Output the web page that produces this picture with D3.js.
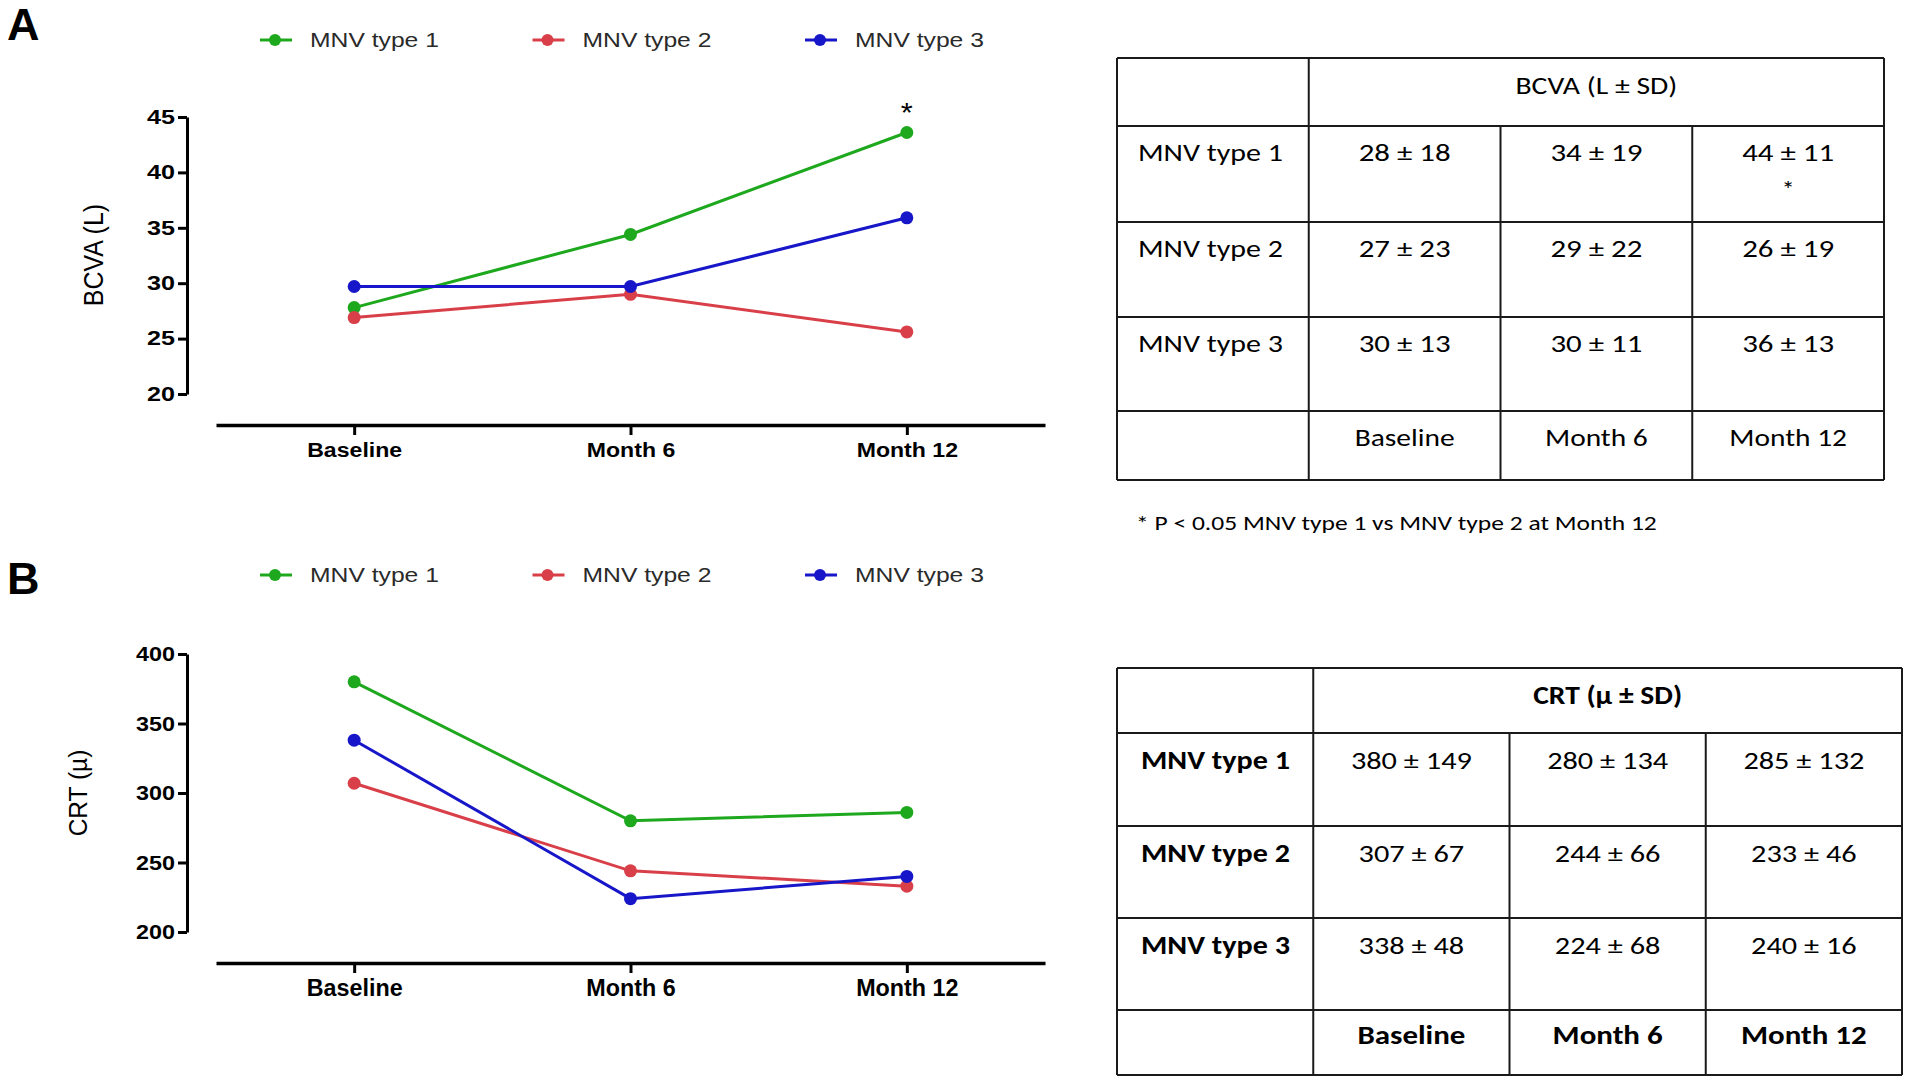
<!DOCTYPE html>
<html>
<head>
<meta charset="utf-8">
<script src="https://cdn.jsdelivr.net/npm/d3@7"></script>
<style>
  body { margin: 0; background: #fff; }
  svg { display: block; }
</style>
</head>
<body>
<div id="chart"></div>
<script>
/* DATA */
const timepoints = ["Baseline", "Month 6", "Month 12"];
const groups = ["MNV type 1", "MNV type 2", "MNV type 3"];

// panel A, BCVA (letters)
const bcvaType1 = [27.8, 34.4, 43.6];
const bcvaType2 = [26.9, 29.0, 25.6];
const bcvaType3 = [29.7, 29.7, 35.9];
const bcvaTicks = [20, 25, 30, 35, 40, 45];

// panel B, CRT (microns)
const crtType1 = [380, 280, 286];
const crtType2 = [307, 244, 233];
const crtType3 = [338, 224, 240];
const crtTicks = [200, 250, 300, 350, 400];

// tables: mean and SD per group (rows) and time point (columns)
const bcvaMean = [[28, 34, 44], [27, 29, 26], [30, 30, 36]];
const bcvaSd = [[18, 19, 11], [23, 22, 19], [13, 11, 13]];
const bcvaMarks = [["", "", "*"], ["", "", ""], ["", "", ""]];
const crtMean = [[380, 280, 285], [307, 244, 233], [338, 224, 240]];
const crtSd = [[149, 134, 132], [67, 66, 46], [48, 68, 16]];

const footnote = "* P < 0.05 MNV type 1 vs MNV type 2 at Month 12";

/* CONSTANTS */
const width = 1907, height = 1085;
const colors = ["#1ea81e", "#d93f48", "#1717c9"];
const sansFont = "'Liberation Sans', Arial, sans-serif";
const tableFont = "Carlito, Lato, 'Open Sans', sans-serif";

const svg = d3.select("#chart").append("svg")
  .attr("width", width)
  .attr("height", height);

// the original picture is stretched sideways, so work out how much
// wider a sample string has to be drawn to match the width seen there
function fitScale(sample, size, bold, family, target) {
  const t = svg.append("text")
    .attr("font-family", family)
    .attr("font-size", size)
    .attr("font-weight", bold ? "bold" : "normal")
    .text(sample);
  const len = t.node().getComputedTextLength();
  t.remove();
  return target / len;
}

function stretchText(g, x, y, str, size, sx, opts = {}) {
  return g.append("text")
    .attr("transform", `translate(${x},${y}) scale(${sx},1)` + (opts.rotate ? ` rotate(${opts.rotate})` : ""))
    .attr("text-anchor", opts.anchor || "start")
    .attr("font-family", opts.family || sansFont)
    .attr("font-size", size)
    .attr("font-weight", opts.bold ? "bold" : "normal")
    .attr("fill", opts.fill || "#000")
    .text(str);
}

const legendSx = fitScale("MNV type 1", 19.5, false, sansFont, 129);

function drawChart(cfg) {
  const g = svg.append("g");

  // panel letter
  stretchText(g, 7, cfg.letterY, cfg.letter, 45, 1, { bold: true });

  // legend
  const legendX = d3.scalePoint().domain(groups).range([275, 820]);
  groups.forEach((name, i) => {
    const lx = legendX(name);
    g.append("line")
      .attr("x1", lx - 15).attr("x2", lx + 17)
      .attr("y1", cfg.legendY).attr("y2", cfg.legendY)
      .attr("stroke", colors[i]).attr("stroke-width", 3);
    g.append("circle")
      .attr("cx", lx).attr("cy", cfg.legendY).attr("r", 6)
      .attr("fill", colors[i]);
    stretchText(g, lx + 35, cfg.legendY + 7, name, 19.5, legendSx, { fill: "#2a2a2a" });
  });

  const x = d3.scalePoint().domain(timepoints).range([216, 1045]).padding(0.5);
  const y = d3.scaleLinear().domain(cfg.yDomain).range(cfg.yRange);

  const yTickSx = fitScale(String(cfg.ticks[0]), cfg.yTickSize, true, sansFont, cfg.yTickWidth);
  const xTickSx = fitScale(timepoints[0], cfg.xTickSize, true, sansFont, cfg.xTickWidth);

  // y axis
  const yAxis = g.append("g")
    .attr("transform", `translate(187,0)`)
    .call(d3.axisLeft(y).tickValues(cfg.ticks).tickSize(9).tickSizeOuter(0).tickPadding(3));
  yAxis.select(".domain").attr("stroke", "#000").attr("stroke-width", 3);
  yAxis.selectAll(".tick line").attr("stroke", "#000").attr("stroke-width", 3);
  yAxis.selectAll(".tick text")
    .attr("font-family", sansFont)
    .attr("font-size", cfg.yTickSize)
    .attr("font-weight", "bold")
    .attr("fill", "#000")
    .attr("x", -12 / yTickSx)
    .attr("transform", `scale(${yTickSx},1)`);

  // x axis
  const xAxis = g.append("g")
    .attr("transform", `translate(0,${cfg.xAxisY})`)
    .call(d3.axisBottom(x).tickSize(10).tickSizeOuter(0).tickPadding(cfg.xPad));
  xAxis.select(".domain").attr("stroke", "#000").attr("stroke-width", 3.5);
  xAxis.selectAll(".tick line").attr("stroke", "#000").attr("stroke-width", 3);
  xAxis.selectAll(".tick text")
    .attr("font-family", sansFont)
    .attr("font-size", cfg.xTickSize)
    .attr("font-weight", "bold")
    .attr("fill", "#000")
    .attr("transform", `scale(${xTickSx},1)`);

  // y axis title
  stretchText(g, cfg.titleX, cfg.titleY, cfg.title, cfg.titleSize, cfg.titleSx,
    { rotate: -90, anchor: "middle" });

  // series
  const line = d3.line().x((d, i) => x(timepoints[i])).y(d => y(d));
  cfg.series.forEach((vals, i) => {
    g.append("path")
      .attr("d", line(vals))
      .attr("fill", "none")
      .attr("stroke", colors[i])
      .attr("stroke-width", 3);
  });
  cfg.series.forEach((vals, i) => {
    g.selectAll(null)
      .data(vals)
      .join("circle")
      .attr("cx", (d, j) => x(timepoints[j]))
      .attr("cy", d => y(d))
      .attr("r", 6.5)
      .attr("fill", colors[i]);
  });

  if (cfg.star) {
    stretchText(g, x(timepoints[cfg.star.col]), y(cfg.series[cfg.star.row][cfg.star.col]) - 11,
      "*", 28, 1.1, { anchor: "middle" });
  }
}

function drawTable(cfg) {
  const g = svg.append("g");
  const col = d3.scaleBand().domain(["label", ...timepoints]).range(cfg.xRange);
  const rows = cfg.rowEdges;
  const left = cfg.xRange[0], right = cfg.xRange[1];
  const size = cfg.fontSize;

  // horizontal rules
  rows.forEach(ry => {
    g.append("line").attr("x1", left).attr("x2", right).attr("y1", ry).attr("y2", ry)
      .attr("stroke", "#1a1a1a").attr("stroke-width", 2);
  });
  // outer verticals + label column divider
  [left, col(timepoints[0]), right].forEach(cx => {
    g.append("line").attr("x1", cx).attr("x2", cx).attr("y1", rows[0]).attr("y2", rows[rows.length - 1])
      .attr("stroke", "#1a1a1a").attr("stroke-width", 2);
  });
  // inner verticals below the merged header
  timepoints.slice(1).forEach(t => {
    g.append("line").attr("x1", col(t)).attr("x2", col(t)).attr("y1", rows[1]).attr("y2", rows[rows.length - 1])
      .attr("stroke", "#1a1a1a").attr("stroke-width", 2);
  });

  const cell = (m, s) => `${m} ± ${s}`;
  const headSx = fitScale(cfg.header, size, cfg.boldHeads, tableFont, cfg.headerWidth);
  const labelSx = fitScale(groups[0], size, cfg.boldHeads, tableFont, cfg.labelWidth);
  const valueSx = fitScale(cell(cfg.mean[0][0], cfg.sd[0][0]), size, false, tableFont, cfg.valueWidth);
  const timeSx = fitScale(timepoints[0], size, cfg.boldHeads, tableFont, cfg.timeWidth);

  const txt = (x, y, s, bold, anchor, sx) =>
    stretchText(g, x, y, s, size, sx, { bold: bold, anchor: anchor, family: tableFont });

  // header
  txt((col(timepoints[0]) + right) / 2, rows[0] + cfg.headerDy, cfg.header, cfg.boldHeads, "middle", headSx);

  // group rows
  groups.forEach((name, r) => {
    const top = rows[r + 1];
    txt(left + cfg.labelPad, top + cfg.rowDy, name, cfg.boldHeads, "start", labelSx);
    timepoints.forEach((t, c) => {
      const cx = col(t) + col.bandwidth() / 2;
      txt(cx, top + cfg.rowDy, cell(cfg.mean[r][c], cfg.sd[r][c]), false, "middle", valueSx);
      if (cfg.marks && cfg.marks[r][c]) {
        txt(cx, top + cfg.rowDy + 36, cfg.marks[r][c], false, "middle", valueSx).attr("font-size", 22);
      }
    });
  });

  // time point row
  timepoints.forEach(t => {
    txt(col(t) + col.bandwidth() / 2, rows[4] + cfg.footDy, t, cfg.boldHeads, "middle", timeSx);
  });
}

/* PANEL A */
drawChart({
  letter: "A", letterY: 40, legendY: 40,
  yDomain: [20, 45], yRange: [394, 117], ticks: bcvaTicks,
  yTickSize: 19.5, yTickWidth: 28,
  xAxisY: 425, xTickSize: 21, xTickWidth: 95, xPad: 7,
  title: "BCVA (L)", titleX: 103, titleY: 255, titleSize: 25, titleSx: 1.12,
  series: [bcvaType1, bcvaType2, bcvaType3],
  star: { row: 0, col: 2 }
});

/* PANEL B */
drawChart({
  letter: "B", letterY: 594, legendY: 575,
  yDomain: [200, 400], yRange: [932, 654], ticks: crtTicks,
  yTickSize: 21, yTickWidth: 39,
  xAxisY: 963, xTickSize: 23, xTickWidth: 96, xPad: 7,
  title: "CRT (µ)", titleX: 87, titleY: 793, titleSize: 24.5, titleSx: 1.08,
  series: [crtType1, crtType2, crtType3]
});

/* TABLES */
drawTable({
  xRange: [1117, 1884], rowEdges: [58, 126, 222, 317, 411, 480],
  header: "BCVA (L ± SD)", mean: bcvaMean, sd: bcvaSd, marks: bcvaMarks,
  fontSize: 25.5, boldHeads: false, labelPad: 21,
  headerWidth: 162, labelWidth: 145, valueWidth: 92, timeWidth: 100,
  headerDy: 36, rowDy: 35, footDy: 35
});

drawTable({
  xRange: [1117, 1902], rowEdges: [668, 733, 826, 918, 1010, 1075],
  header: "CRT (µ ± SD)", mean: crtMean, sd: crtSd,
  fontSize: 25.5, boldHeads: true, labelPad: 24,
  headerWidth: 149, labelWidth: 149, valueWidth: 121, timeWidth: 108,
  headerDy: 36, rowDy: 36, footDy: 34
});

const noteSx = fitScale(footnote, 19.5, false, tableFont, 521);
stretchText(svg, 1136, 530, footnote, 19.5, noteSx, { family: tableFont });
</script>
</body>
</html>
